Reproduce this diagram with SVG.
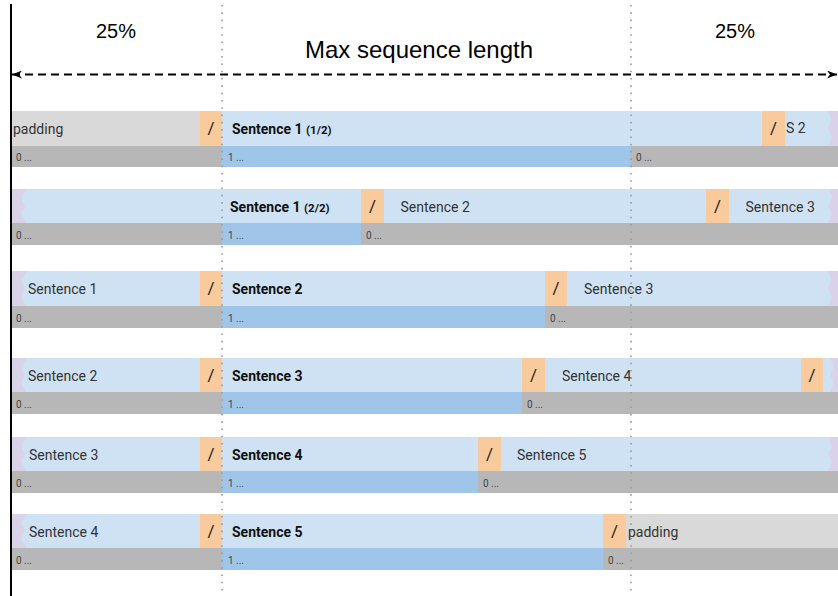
<svg xmlns="http://www.w3.org/2000/svg" width="838" height="596" viewBox="0 0 838 596">
<defs>
<style>
.lb{fill:#cfe2f3}
.db{fill:#9fc5e8}
.gr{fill:#b7b7b7}
.pd{fill:#d9d9d9}
.or{fill:#f9cb9c}
.pu{fill:#d9d2e9}
.t{font-family:Roboto,"Liberation Sans",sans-serif;font-size:14px;fill:#333}
.b{font-family:Roboto,"Liberation Sans",sans-serif;font-size:14px;font-weight:bold;fill:#111}
.bs{font-size:11.5px}
.s{font-family:Roboto,"Liberation Sans",sans-serif;font-size:10px;fill:#444}
.sl{font-family:Roboto,"Liberation Sans",sans-serif;font-size:17px;fill:#222;text-anchor:middle}
.h{font-family:"Liberation Sans",Arial,sans-serif;fill:#000;text-anchor:middle}
.dot{stroke:#999;stroke-width:1.6;stroke-dasharray:1.6 5.7;fill:none}
</style>
<marker id="ah" viewBox="0 0 10 8" refX="10" refY="4" markerWidth="10" markerHeight="8" markerUnits="userSpaceOnUse" orient="auto-start-reverse">
<path d="M0,0 L10,4 L0,8 L3,4 z" fill="#000"/>
</marker>
</defs>
<rect width="838" height="596" fill="#fff"/>

<g id="header">
<text class="h" x="116" y="38" font-size="20">25%</text>
<text class="h" x="735" y="38" font-size="20">25%</text>
<text class="h" x="419" y="58" font-size="24">Max sequence length</text>
</g>

<g id="row1">
<rect class="pd" x="12" y="111" width="188" height="35"/>
<rect class="or" x="200" y="111" width="22" height="35"/>
<rect class="lb" x="222" y="111" width="540" height="35"/>
<rect class="or" x="762" y="111" width="23" height="35"/>
<rect class="lb" x="785" y="111" width="53" height="35"/>
<polygon class="pu" points="838,111 828,111 832,120 828,128 832,137 828,146 838,146"/>
<rect class="gr" x="12" y="146" width="210" height="21"/>
<rect class="db" x="222" y="146" width="409" height="21"/>
<rect class="gr" x="631" y="146" width="207" height="21"/>
<text class="t" x="13" y="133.5">padding</text>
<text class="sl" x="211" y="134">/</text>
<text class="b" x="232" y="133.5">Sentence 1 <tspan class="bs">(1/2)</tspan></text>
<text class="sl" x="773.5" y="134">/</text>
<text class="t" x="786" y="133" font-size="13">S 2</text>
<text class="s" x="16" y="161">0 ...</text>
<text class="s" x="228" y="161">1 ...</text>
<text class="s" x="636" y="161">0 ...</text>
</g>

<g id="row2">
<rect class="lb" x="12" y="189" width="349" height="34"/>
<polygon class="pu" points="12,189 27,189 21,198 25,206 21,214 26,223 12,223"/>
<rect class="or" x="361" y="189" width="23" height="34"/>
<rect class="lb" x="384" y="189" width="322" height="34"/>
<rect class="or" x="706" y="189" width="23" height="34"/>
<rect class="lb" x="729" y="189" width="109" height="34"/>
<polygon class="pu" points="838,189 828,189 832,197 828,206 832,214 828,223 838,223"/>
<rect class="gr" x="12" y="223" width="210" height="22"/>
<rect class="db" x="222" y="223" width="139" height="22"/>
<rect class="gr" x="361" y="223" width="477" height="22"/>
<text class="b" x="230" y="211.5">Sentence 1 <tspan class="bs">(2/2)</tspan></text>
<text class="sl" x="372.5" y="212">/</text>
<text class="t" x="400.5" y="211.5">Sentence 2</text>
<text class="sl" x="717.5" y="212">/</text>
<text class="t" x="745.5" y="211.5">Sentence 3</text>
<text class="s" x="16" y="238.5">0 ...</text>
<text class="s" x="228" y="238.5">1 ...</text>
<text class="s" x="366" y="238.5">0 ...</text>
</g>

<g id="row3">
<rect class="lb" x="12" y="271" width="188" height="35"/>
<polygon class="pu" points="12,271 27,271 21,280 25,288 21,297 26,306 12,306"/>
<rect class="or" x="200" y="271" width="22" height="35"/>
<rect class="lb" x="222" y="271" width="323" height="35"/>
<rect class="or" x="545" y="271" width="22" height="35"/>
<rect class="lb" x="567" y="271" width="271" height="35"/>
<polygon class="pu" points="838,271 828,271 832,280 828,288 832,297 828,306 838,306"/>
<rect class="gr" x="12" y="306" width="210" height="22"/>
<rect class="db" x="222" y="306" width="323" height="22"/>
<rect class="gr" x="545" y="306" width="293" height="22"/>
<text class="t" x="28" y="293.5">Sentence 1</text>
<text class="sl" x="211" y="294">/</text>
<text class="b" x="232" y="293.5">Sentence 2</text>
<text class="sl" x="556" y="294">/</text>
<text class="t" x="584" y="293.5">Sentence 3</text>
<text class="s" x="16" y="321.5">0 ...</text>
<text class="s" x="228" y="321.5">1 ...</text>
<text class="s" x="550" y="321.5">0 ...</text>
</g>

<g id="row4">
<rect class="lb" x="12" y="358" width="188" height="34"/>
<polygon class="pu" points="12,358 27,358 21,367 25,375 21,383 26,392 12,392"/>
<rect class="or" x="200" y="358" width="22" height="34"/>
<rect class="lb" x="222" y="358" width="300" height="34"/>
<rect class="or" x="522" y="358" width="23" height="34"/>
<rect class="lb" x="545" y="358" width="256" height="34"/>
<rect class="or" x="801" y="358" width="22" height="34"/>
<rect class="lb" x="823" y="358" width="15" height="34"/>
<polygon class="pu" points="838,358 830,358 834,367 830,375 834,383 830,392 838,392"/>
<rect class="gr" x="12" y="392" width="210" height="22"/>
<rect class="db" x="222" y="392" width="300" height="22"/>
<rect class="gr" x="522" y="392" width="316" height="22"/>
<text class="t" x="28" y="380.5">Sentence 2</text>
<text class="sl" x="211" y="381">/</text>
<text class="b" x="232" y="380.5">Sentence 3</text>
<text class="sl" x="533.5" y="381">/</text>
<text class="t" x="562" y="380.5">Sentence 4</text>
<text class="sl" x="812" y="381">/</text>
<text class="s" x="16" y="407.5">0 ...</text>
<text class="s" x="228" y="407.5">1 ...</text>
<text class="s" x="527" y="407.5">0 ...</text>
</g>

<g id="row5">
<rect class="lb" x="12" y="437" width="188" height="34"/>
<polygon class="pu" points="12,437 27,437 21,446 25,454 21,462 26,471 12,471"/>
<rect class="or" x="200" y="437" width="22" height="34"/>
<rect class="lb" x="222" y="437" width="256" height="34"/>
<rect class="or" x="478" y="437" width="23" height="34"/>
<rect class="lb" x="501" y="437" width="337" height="34"/>
<polygon class="pu" points="838,437 828,437 832,446 828,454 832,462 828,471 838,471"/>
<rect class="gr" x="12" y="471" width="210" height="22"/>
<rect class="db" x="222" y="471" width="256" height="22"/>
<rect class="gr" x="478" y="471" width="360" height="22"/>
<text class="t" x="29" y="459.5">Sentence 3</text>
<text class="sl" x="211" y="460">/</text>
<text class="b" x="232" y="459.5">Sentence 4</text>
<text class="sl" x="489.5" y="460">/</text>
<text class="t" x="517" y="459.5">Sentence 5</text>
<text class="s" x="16" y="486.5">0 ...</text>
<text class="s" x="228" y="486.5">1 ...</text>
<text class="s" x="483" y="486.5">0 ...</text>
</g>

<g id="row6">
<rect class="lb" x="12" y="514" width="188" height="34"/>
<polygon class="pu" points="12,514 27,514 21,523 25,531 21,539 26,548 12,548"/>
<rect class="or" x="200" y="514" width="22" height="34"/>
<rect class="lb" x="222" y="514" width="381" height="34"/>
<rect class="or" x="603" y="514" width="23" height="34"/>
<rect class="pd" x="626" y="514" width="212" height="34"/>
<rect class="gr" x="12" y="548" width="210" height="22"/>
<rect class="db" x="222" y="548" width="381" height="22"/>
<rect class="gr" x="603" y="548" width="235" height="22"/>
<text class="t" x="29" y="536.5">Sentence 4</text>
<text class="sl" x="211" y="537">/</text>
<text class="b" x="232" y="536.5">Sentence 5</text>
<text class="sl" x="614.5" y="537">/</text>
<text class="t" x="628" y="536.5">padding</text>
<text class="s" x="16" y="563.5">0 ...</text>
<text class="s" x="228" y="563.5">1 ...</text>
<text class="s" x="608" y="563.5">0 ...</text>
</g>

<g id="guides">
<line class="dot" x1="222" y1="5" x2="222" y2="596"/>
<line class="dot" x1="631" y1="5" x2="631" y2="596"/>
<line x1="11" y1="4" x2="11" y2="596" stroke="#000" stroke-width="2"/>
</g>

<g id="connectors">
<line x1="12" y1="74.5" x2="837" y2="74.5" stroke="#000" stroke-width="2" stroke-dasharray="8 5" marker-start="url(#ah)" marker-end="url(#ah)"/>
</g>
</svg>
